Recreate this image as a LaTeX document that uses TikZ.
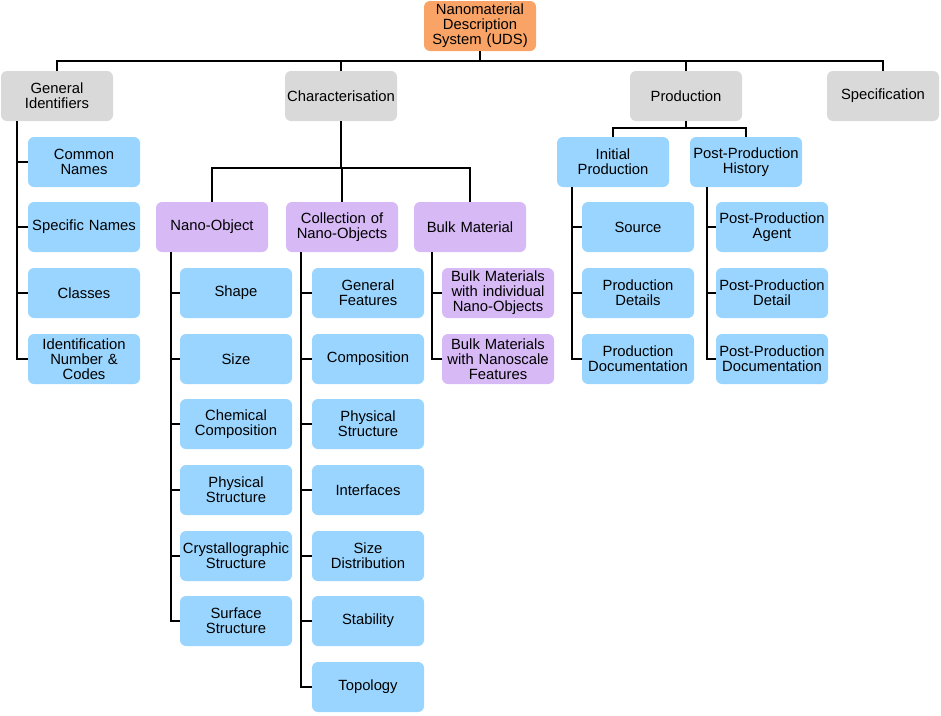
\documentclass[tikz,border=0pt]{standalone}
\usepackage{fontspec}
\setmainfont{Liberation Sans}
\definecolor{cblue}{HTML}{99D5FE}
\definecolor{cpurple}{HTML}{D7B9F6}
\definecolor{cgray}{HTML}{D9D9D9}
\definecolor{corange}{HTML}{F9A466}
\tikzset{
  box/.style={rounded corners=6pt, minimum width=112pt, minimum height=50pt, text width=112pt, align=center, inner sep=0pt, font=\fontsize{14.8}{15}\selectfont},
  bluebox/.style={box, fill=cblue},
  purplebox/.style={box, fill=cpurple},
  graybox/.style={box, fill=cgray},
  orangebox/.style={box, fill=corange},
  conn/.style={draw=black, line width=2.2pt},
}
\begin{document}
\begin{tikzpicture}[x=1pt,y=-1pt]
\useasboundingbox (0,0) rectangle (941,715);
% root
\node[orangebox] (root) at (480,26) {Nanomaterial\\Description\\System (UDS)};
% level 1
\node[graybox] (gi) at (57,96) {General\\Identifiers};
\node[graybox] (char) at (341,96) {Characterisation};
\node[graybox] (prod) at (686,96) {Production};
\node[graybox] (spec) at (883,96) {Specification};
% general identifiers children
\node[bluebox] (gi1) at (84,162) {Common\\Names};
\node[bluebox] (gi2) at (84,227) {Specific Names};
\node[bluebox] (gi3) at (84,293) {Classes};
\node[bluebox] (gi4) at (84,359) {Identification\\Number \&\\Codes};
% characterisation children
\node[purplebox] (no) at (212,227) {Nano-Object};
\node[purplebox] (coll) at (342,227) {Collection of\\Nano-Objects};
\node[purplebox] (bm) at (470,227) {Bulk Material};
% nano-object children
\node[bluebox] (no1) at (236,293) {Shape};
\node[bluebox] (no2) at (236,359) {Size};
\node[bluebox] (no3) at (236,424) {Chemical\\Composition};
\node[bluebox] (no4) at (236,490) {Physical\\Structure};
\node[bluebox] (no5) at (236,556) {Crystallographic\\Structure};
\node[bluebox] (no6) at (236,621) {Surface\\Structure};
% collection children
\node[bluebox] (co1) at (368,293) {General\\Features};
\node[bluebox] (co2) at (368,359) {Composition};
\node[bluebox] (co3) at (368,424) {Physical\\Structure};
\node[bluebox] (co4) at (368,490) {Interfaces};
\node[bluebox] (co5) at (368,556) {Size\\Distribution};
\node[bluebox] (co6) at (368,621) {Stability};
\node[bluebox] (co7) at (368,687) {Topology};
% bulk children
\node[purplebox] (bm1) at (498,293) {Bulk Materials\\with individual\\Nano-Objects};
\node[purplebox] (bm2) at (498,359) {Bulk Materials\\with Nanoscale\\Features};
% production children
\node[bluebox] (ip) at (613,162) {Initial\\Production};
\node[bluebox] (pph) at (746,162) {Post-Production\\History};
\node[bluebox] (ip1) at (638,227) {Source};
\node[bluebox] (ip2) at (638,293) {Production\\Details};
\node[bluebox] (ip3) at (638,359) {Production\\Documentation};
\node[bluebox] (pp1) at (772,227) {Post-Production\\Agent};
\node[bluebox] (pp2) at (772,293) {Post-Production\\Detail};
\node[bluebox] (pp3) at (772,359) {Post-Production\\Documentation};
% connectors: top level
\coordinate (top) at (480,61);
\draw[conn] (root.south) -- (top);
\draw[conn] (gi.north) |- (top);
\draw[conn] (char.north) |- (top);
\draw[conn] (prod.north) |- (top);
\draw[conn] (spec.north) |- (top);
% general identifiers
\foreach \c in {gi1,gi2,gi3,gi4}
  \draw[conn] ([xshift=16pt]gi.south west) |- (\c.west);
% characterisation
\coordinate (cb) at (341,168);
\draw[conn] (char.south) -- (cb);
\draw[conn] (no.north) |- (cb);
\draw[conn] (bm.north) |- (cb);
\draw[conn] (coll.north) |- (cb);
\foreach \c in {no1,no2,no3,no4,no5,no6}
  \draw[conn] ([xshift=15pt]no.south west) |- (\c.west);
\foreach \c in {co1,co2,co3,co4,co5,co6,co7}
  \draw[conn] ([xshift=15pt]coll.south west) |- (\c.west);
\foreach \c in {bm1,bm2}
  \draw[conn] ([xshift=18pt]bm.south west) |- (\c.west);
% production
\coordinate (pb) at (686,128);
\draw[conn] (prod.south) -- (pb);
\draw[conn] (ip.north) |- (pb);
\draw[conn] (pph.north) |- (pb);
\foreach \c in {ip1,ip2,ip3}
  \draw[conn] ([xshift=15pt]ip.south west) |- (\c.west);
\foreach \c in {pp1,pp2,pp3}
  \draw[conn] ([xshift=17pt]pph.south west) |- (\c.west);
\end{tikzpicture}
\end{document}
